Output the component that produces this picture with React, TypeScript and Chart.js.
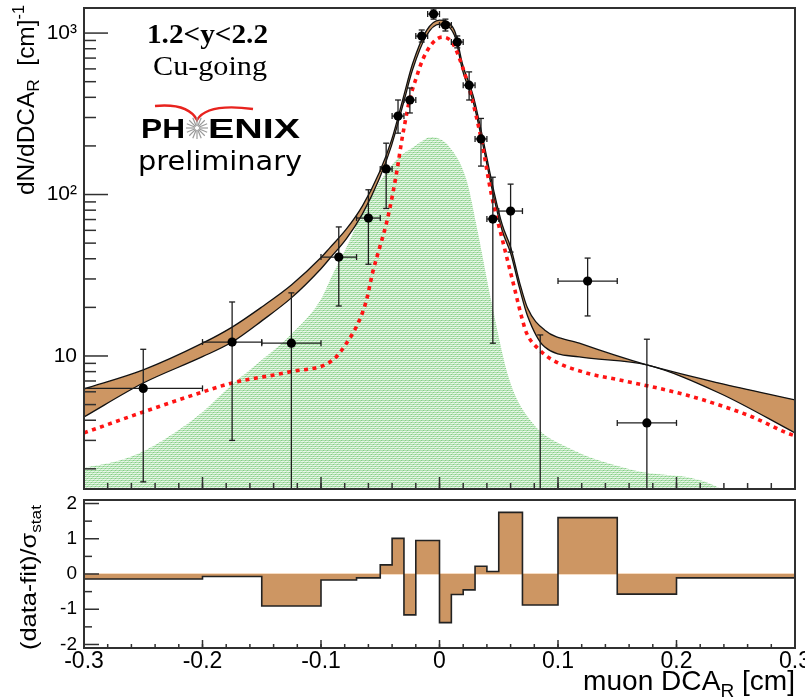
import { useEffect, useRef } from 'react';
import { Chart, registerables } from 'chart.js';

Chart.register(...registerables);

const SANS = '"Liberation Sans", Arial, Helvetica, sans-serif';
const SERIF = '"Liberation Serif", "Times New Roman", serif';
const WIDE_SANS = '"DejaVu Sans", "Liberation Sans", sans-serif';

// Histogram bin edges in muon DCA_R (cm)
const binEdges = [-0.3, -0.2, -0.15, -0.1, -0.07, -0.05, -0.04, -0.03, -0.02, -0.01, 0, 0.01, 0.02, 0.03, 0.04, 0.05, 0.07, 0.1, 0.15, 0.2, 0.3];

// Measured dN/dDCA_R per bin (null: no marker inside the log range)
const yieldData = [6.3, 12.2, 12.0, 41, 71.5, 144, 306, 385, 958, 1312, 1121, 880, 476, 221, 70.5, 79, null, 29.1, 3.85, null];
// Statistical error limits (0: runs below the axis)
const yieldErrLow = [1.66, 3.0, 0, 20.4, 37, 82, 240, 320, 880, 1220, 1030, 810, 385, 150, 12, 44, 0, 17.7, 0, null];
const yieldErrHigh = [11.0, 21.6, 24.6, 63, 107, 208, 385, 457, 1045, 1410, 1220, 960, 575, 296, 128, 116, 13.5, 40.4, 12.7, null];

// (data-fit)/sigma_stat per bin
const pullData = [-0.14, -0.07, -0.91, -0.17, -0.11, 0.26, 1.01, -1.16, 0.95, 0.95, -1.38, -0.58, -0.45, 0.22, 0.07, 1.75, -0.88, 1.6, -0.57, -0.11];

// Total fit uncertainty band
const fitX = [-0.3, -0.25, -0.2, -0.175, -0.15, -0.125, -0.1, -0.0928, -0.0785, -0.065, -0.0506, -0.0405, -0.0304, -0.0228, -0.011, 0, 0.0127, 0.0194, 0.0287, 0.0354, 0.046, 0.053, 0.06, 0.0675, 0.0743, 0.0886, 0.118, 0.175, 0.236, 0.3];
const fitHigh = [6.25, 8.2, 12.0, 15.1, 20.1, 27.5, 40.7, 46.6, 61.2, 85.1, 138, 217, 402, 643, 1036, 1203, 1036, 643, 402, 244, 104, 64.7, 47.3, 28.7, 19.8, 14.5, 12.0, 8.8, 6.8, 5.35];
const fitLow = [4.19, 6.8, 9.9, 12.2, 16.5, 22.9, 34.7, 40.0, 53.3, 75.9, 126, 201, 369, 590, 966, 1137, 966, 590, 369, 224, 95, 59.4, 43.4, 26.4, 17.7, 11.4, 9.86, 8.8, 5.9, 3.34];

// Fit component (red dotted)
const bkgX = [-0.3, -0.25, -0.2, -0.175, -0.127, -0.09, -0.0785, -0.0675, -0.0616, -0.0565, -0.0506, -0.0447, -0.0397, -0.0354, -0.0321, -0.0287, -0.0253, -0.0194, -0.0143, -0.0059, 0.0025, 0.011, 0.0194, 0.027, 0.0354, 0.0439, 0.0532, 0.0616, 0.07, 0.0734, 0.0844, 0.0954, 0.124, 0.152, 0.18, 0.2084, 0.236, 0.264, 0.293, 0.3];
const bkgY = [3.34, 4.5, 5.98, 6.81, 7.96, 9.44, 12.0, 16.7, 22.2, 32.7, 46.7, 66.7, 99, 148, 211, 289, 385, 534, 681, 867, 944, 867, 617, 402, 217, 99, 52, 29.5, 16.7, 13.9, 10.9, 9.44, 7.85, 7.1, 6.43, 5.73, 4.97, 4.19, 3.34, 3.2];

// Fit component (green shaded)
const promptX = [-0.3, -0.274, -0.2506, -0.2236, -0.2, -0.1755, -0.15, -0.1257, -0.1004, -0.0903, -0.0776, -0.065, -0.0506, -0.0363, -0.0194, -0.0068, 0.0084, 0.0228, 0.032, 0.0447, 0.059, 0.0785, 0.107, 0.163, 0.236, 0.245];
const promptY = [2.03, 2.21, 2.55, 3.34, 4.5, 6.61, 9.44, 13.5, 22.2, 31.8, 48.6, 78, 119, 164, 203, 227, 197, 123, 60, 20.1, 7.1, 3.85, 2.74, 1.97, 1.52, 1.3];

const yTickValues = [10, 100, 1000];
const yTickLabels = ['10', '10\u00b2', '10\u00b3'];
const pullTickValues = [-2, -1, 0, 1, 2];
const pullMinorTicks = [-1.5, -0.5, 0.5, 1.5];
const xTickValues = [-0.3, -0.2, -0.1, 0, 0.1, 0.2, 0.3];
const xTickLabels = ['-0.3', '-0.2', '-0.1', '0', '0.1', '0.2', '0.3'];

const binCenters = binEdges.slice(0, -1).map((e, i) => (e + binEdges[i + 1]) / 2);

const BROWN = '#cd9663';
const FRAME = '#303030';

type Part = { t: string; size: number; dy?: number };

function partsWidth(ctx: CanvasRenderingContext2D, parts: Part[], family: string) {
  let w = 0;
  for (const p of parts) {
    ctx.font = `${p.size}px ${family}`;
    w += ctx.measureText(p.t).width;
  }
  return w;
}

// Draws a run of text parts (sub/superscripts) stretched to a given length
function drawParts(ctx: CanvasRenderingContext2D, parts: Part[], family: string, x: number, y: number, length: number) {
  const natural = partsWidth(ctx, parts, family);
  ctx.save();
  ctx.translate(x, y);
  ctx.scale(length / natural, 1);
  let cx = 0;
  for (const p of parts) {
    ctx.font = `${p.size}px ${family}`;
    ctx.fillText(p.t, cx, p.dy || 0);
    cx += ctx.measureText(p.t).width;
  }
  ctx.restore();
}

function fitText(ctx: CanvasRenderingContext2D, text: string, font: string, x: number, y: number, width: number) {
  ctx.save();
  ctx.font = font;
  const w = ctx.measureText(text).width;
  ctx.translate(x, y);
  ctx.scale(width / w, 1);
  ctx.fillText(text, 0, 0);
  ctx.restore();
}

function makeGreenPattern(ctx: CanvasRenderingContext2D) {
  const tile = document.createElement('canvas');
  tile.width = 4;
  tile.height = 4;
  const g = tile.getContext('2d')!;
  g.fillStyle = '#e8f6e8';
  g.fillRect(0, 0, 4, 4);
  g.fillStyle = '#ade0ad';
  g.fillRect(0, 0, 4, 1);
  g.fillRect(0, 2, 4, 1);
  g.fillStyle = '#86cc86';
  g.fillRect(1, 0, 1, 1);
  g.fillRect(3, 2, 1, 1);
  g.fillStyle = '#c8eac8';
  g.fillRect(0, 1, 1, 1);
  g.fillRect(2, 3, 1, 1);
  return ctx.createPattern(tile, 'repeat')!;
}

function seg(ctx: CanvasRenderingContext2D, x1: number, y1: number, x2: number, y2: number) {
  ctx.beginPath();
  ctx.moveTo(x1, y1);
  ctx.lineTo(x2, y2);
  ctx.stroke();
}

// Error bars with end caps, drawn just under the markers
const errorBarPlugin = {
  id: 'errorBars',
  beforeDatasetDraw(chart: any, args: any) {
    if (args.index !== 0) return;
    const { ctx, chartArea: a, scales } = chart;
    const x = scales.x;
    const y = scales.y;
    const py = (v: number) => (v > 0 ? y.getPixelForValue(v) : a.bottom + 6);
    ctx.save();
    ctx.beginPath();
    ctx.rect(a.left, a.top, a.right - a.left, a.bottom - a.top);
    ctx.clip();
    ctx.strokeStyle = '#1e1e1e';
    ctx.lineWidth = 1.3;
    binCenters.forEach((c, i) => {
      const hi = yieldErrHigh[i];
      if (hi == null) return;
      const lo = yieldErrLow[i] as number;
      const cx = x.getPixelForValue(c);
      const yTop = py(hi);
      const yBot = py(lo);
      seg(ctx, cx, yTop, cx, yBot);
      seg(ctx, cx - 3, yTop, cx + 3, yTop);
      if (lo > 0) seg(ctx, cx - 3, yBot, cx + 3, yBot);
      const v = yieldData[i];
      if (v != null) {
        const cy = py(v);
        const xl = x.getPixelForValue(binEdges[i]);
        const xr = x.getPixelForValue(binEdges[i + 1]);
        seg(ctx, xl, cy, xr, cy);
        seg(ctx, xl, cy - 3, xl, cy + 3);
        seg(ctx, xr, cy - 3, xr, cy + 3);
      }
    });
    ctx.restore();
  },
};

function drawFrameAndTicks(chart: any, cfg: {
  xMajor: number[]; xMinor: number[]; xMajorLen: number; xMinorLen: number;
  yMajor: number[]; yMinor: number[]; yMajorLen: number; yMinorLen: number;
}) {
  const { ctx, chartArea: a, scales } = chart;
  const x = scales.x;
  const y = scales.y;
  ctx.save();
  ctx.strokeStyle = FRAME;
  ctx.lineWidth = 1.5;
  cfg.xMinor.forEach((v) => { const p = x.getPixelForValue(v); seg(ctx, p, a.bottom, p, a.bottom - cfg.xMinorLen); });
  cfg.xMajor.forEach((v) => { const p = x.getPixelForValue(v); seg(ctx, p, a.bottom, p, a.bottom - cfg.xMajorLen); });
  cfg.yMinor.forEach((v) => { const p = y.getPixelForValue(v); seg(ctx, a.left, p, a.left + cfg.yMinorLen, p); });
  cfg.yMajor.forEach((v) => { const p = y.getPixelForValue(v); seg(ctx, a.left, p, a.left + cfg.yMajorLen, p); });
  ctx.lineWidth = 2;
  ctx.strokeRect(a.left, a.top, a.right - a.left, a.bottom - a.top);
  ctx.restore();
}

const xMinorTicks: number[] = [];
for (let i = 0; i <= 30; i++) xMinorTicks.push(Math.round((-0.3 + i * 0.02) * 1000) / 1000);

const logMinorTicks: number[] = [];
[1, 10, 100, 1000].forEach((d) => {
  for (let m = 2; m <= 9; m++) logMinorTicks.push(m * d);
});

const topDecor = {
  id: 'topDecor',
  afterDatasetsDraw(chart: any) {
    const y = chart.scales.y;
    drawFrameAndTicks(chart, {
      xMajor: xTickValues, xMinor: xMinorTicks, xMajorLen: 12, xMinorLen: 6,
      yMajor: yTickValues, yMinor: logMinorTicks.filter((v) => v >= y.min && v <= y.max), yMajorLen: 24, yMinorLen: 12,
    });
  },
  afterDraw(chart: any) {
    const ctx: CanvasRenderingContext2D = chart.ctx;
    ctx.save();
    ctx.fillStyle = '#000';
    ctx.textBaseline = 'alphabetic';
    ctx.textAlign = 'left';

    fitText(ctx, '1.2<y<2.2', `bold 27px ${SERIF}`, 147, 43, 121);
    fitText(ctx, 'Cu-going', `27px ${SERIF}`, 153, 75, 114);

    // PHENIX logo
    ctx.strokeStyle = '#e8231e';
    ctx.lineWidth = 2.4;
    ctx.beginPath();
    ctx.moveTo(155, 106);
    ctx.quadraticCurveTo(188, 103, 197, 120);
    ctx.quadraticCurveTo(207, 103, 253, 109);
    ctx.stroke();

    fitText(ctx, 'PH', `bold 28px ${SANS}`, 141, 138, 44);
    fitText(ctx, 'ENIX', `bold 28px ${SANS}`, 208, 138, 92);
    ctx.strokeStyle = '#9a9a9a';
    ctx.lineWidth = 1.2;
    for (let k = 0; k < 16; k++) {
      const ang = (k * Math.PI) / 8;
      seg(ctx, 197 + 2 * Math.cos(ang), 128 + 2 * Math.sin(ang), 197 + 11 * Math.cos(ang), 128 + 11 * Math.sin(ang));
    }
    fitText(ctx, 'preliminary', `26px ${WIDE_SANS}`, 138, 170, 164);

    // Vertical axis title
    ctx.translate(34, 5);
    ctx.rotate(-Math.PI / 2);
    drawParts(ctx, [
      { t: 'dN/dDCA', size: 24 },
      { t: 'R', size: 17, dy: 5 },
      { t: '  [cm]', size: 24 },
      { t: '-1', size: 16, dy: -10 },
    ], SANS, -190, 0, 190);
    ctx.restore();
  },
};

const pullDecor = {
  id: 'pullDecor',
  beforeDatasetsDraw(chart: any) {
    const { ctx, chartArea: a, scales } = chart;
    const p = scales.y.getPixelForValue(0);
    ctx.save();
    ctx.strokeStyle = '#f7dcc2';
    ctx.lineWidth = 2;
    seg(ctx, a.left, p, a.right, p);
    ctx.restore();
  },
  afterDatasetsDraw(chart: any) {
    drawFrameAndTicks(chart, {
      xMajor: xTickValues, xMinor: xMinorTicks, xMajorLen: 8, xMinorLen: 4,
      yMajor: pullTickValues, yMinor: pullMinorTicks, yMajorLen: 15, yMinorLen: 8,
    });
  },
  afterDraw(chart: any) {
    const ctx: CanvasRenderingContext2D = chart.ctx;
    ctx.save();
    ctx.fillStyle = '#000';
    ctx.textBaseline = 'alphabetic';
    ctx.textAlign = 'left';
    // horizontal axis title (canvas starts at page y = 495)
    drawParts(ctx, [
      { t: 'muon DCA', size: 28 },
      { t: 'R', size: 19, dy: 7 },
      { t: ' [cm]', size: 28 },
    ], SANS, 583, 195, 212);
    // vertical axis title
    ctx.translate(36, 10);
    ctx.rotate(-Math.PI / 2);
    drawParts(ctx, [
      { t: '(data-fit)/\u03c3', size: 22 },
      { t: 'stat', size: 15, dy: 5 },
    ], SANS, -145, 0, 145);
    ctx.restore();
  },
};

export default function App() {
  const topRef = useRef<HTMLCanvasElement>(null);
  const botRef = useRef<HTMLCanvasElement>(null);

  useEffect(() => {
    const c1 = topRef.current!;
    const c2 = botRef.current!;
    const greenFill = makeGreenPattern(c1.getContext('2d')!);

    const topChart = new Chart(c1, {
      type: 'scatter',
      data: {
        datasets: [
          {
            type: 'scatter',
            data: binCenters.map((c, i) => ({ x: c, y: yieldData[i] })).filter((p) => p.y != null) as any,
            pointRadius: 4.6,
            pointBackgroundColor: '#000',
            pointBorderColor: '#000',
            pointBorderWidth: 0,
          },
          {
            type: 'line',
            data: bkgX.map((x, i) => ({ x, y: bkgY[i] })),
            borderColor: '#ff1414',
            borderWidth: 3.6,
            borderDash: [4, 4.5],
            pointRadius: 0,
            fill: false,
            cubicInterpolationMode: 'monotone',
          },
          {
            type: 'line',
            data: fitX.map((x, i) => ({ x, y: fitHigh[i] })),
            borderColor: '#111',
            borderWidth: 1.3,
            backgroundColor: BROWN,
            pointRadius: 0,
            fill: '+1',
            cubicInterpolationMode: 'monotone',
          },
          {
            type: 'line',
            data: fitX.map((x, i) => ({ x, y: fitLow[i] })),
            borderColor: '#111',
            borderWidth: 1.3,
            pointRadius: 0,
            fill: false,
            cubicInterpolationMode: 'monotone',
          },
          {
            type: 'line',
            data: promptX.map((x, i) => ({ x, y: promptY[i] })),
            borderWidth: 0,
            borderColor: 'rgba(0,0,0,0)',
            backgroundColor: greenFill,
            pointRadius: 0,
            fill: 'start',
            cubicInterpolationMode: 'monotone',
          },
        ],
      },
      options: {
        responsive: false,
        animation: false,
        devicePixelRatio: 1,
        events: [],
        layout: { padding: { left: 0, right: 10, top: 8, bottom: 6 } },
        plugins: {
          legend: { display: false },
          tooltip: { enabled: false },
          filler: { drawTime: 'beforeDatasetsDraw' },
        },
        scales: {
          x: { type: 'linear', min: -0.3, max: 0.3, display: false },
          y: {
            type: 'logarithmic',
            min: 1.5,
            max: 1430,
            grid: { display: false, drawTicks: false },
            border: { display: false },
            afterBuildTicks: (s: any) => { s.ticks = yTickValues.map((v) => ({ value: v })); },
            afterFit: (s: any) => { s.width = 84; s.paddingTop = 0; s.paddingBottom = 0; },
            ticks: {
              color: '#000',
              padding: 7,
              font: { family: SANS, size: 21 },
              callback: (_v: any, i: number) => yTickLabels[i],
            },
          },
        },
      } as any,
      plugins: [errorBarPlugin, topDecor],
    });

    const pullChart = new Chart(c2, {
      type: 'line',
      data: {
        datasets: [
          {
            data: binEdges.map((e, i) => ({ x: e, y: pullData[Math.min(i, pullData.length - 1)] })),
            stepped: 'before',
            fill: 'origin',
            backgroundColor: BROWN,
            borderColor: '#222',
            borderWidth: 1.6,
            pointRadius: 0,
          },
        ],
      },
      options: {
        responsive: false,
        animation: false,
        devicePixelRatio: 1,
        events: [],
        layout: { padding: { left: 0, right: 10, top: 5, bottom: 0 } },
        plugins: {
          legend: { display: false },
          tooltip: { enabled: false },
        },
        scales: {
          x: {
            type: 'linear',
            min: -0.3,
            max: 0.3,
            grid: { display: false, drawTicks: false },
            border: { display: false },
            afterBuildTicks: (s: any) => { s.ticks = xTickValues.map((v) => ({ value: v })); },
            afterFit: (s: any) => { s.height = 52; s.paddingLeft = 0; s.paddingRight = 0; },
            ticks: {
              color: '#000',
              padding: 0,
              maxRotation: 0,
              autoSkip: false,
              font: { family: SANS, size: 23 },
              callback: (_v: any, i: number) => xTickLabels[i],
            },
          },
          y: {
            type: 'linear',
            min: -2.1,
            max: 2.1,
            grid: { display: false, drawTicks: false },
            border: { display: false },
            afterBuildTicks: (s: any) => { s.ticks = pullTickValues.map((v) => ({ value: v })); },
            afterFit: (s: any) => { s.width = 84; s.paddingTop = 0; s.paddingBottom = 0; },
            ticks: {
              color: '#000',
              padding: 7,
              font: { family: SANS, size: 19 },
              callback: (v: any) => String(v),
            },
          },
        },
      } as any,
      plugins: [pullDecor],
    });

    return () => {
      topChart.destroy();
      pullChart.destroy();
    };
  }, []);

  return (
    <div style={{ position: 'absolute', left: 0, top: 0, width: 805, height: 700, background: '#fff', overflow: 'hidden' }}>
      <canvas ref={topRef} width={805} height={495} style={{ position: 'absolute', left: 0, top: 0, display: 'block' }} />
      <canvas ref={botRef} width={805} height={205} style={{ position: 'absolute', left: 0, top: 495, display: 'block' }} />
    </div>
  );
}
